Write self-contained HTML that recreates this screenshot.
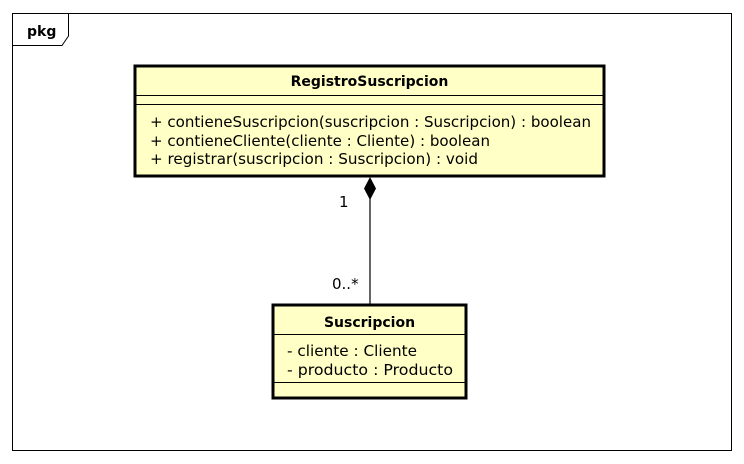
<!DOCTYPE html>
<html><head><style>html,body{margin:0;padding:0;background:#fff}svg{display:block}</style></head>
<body>
<svg width="744" height="464" viewBox="0 0 744 464" xmlns="http://www.w3.org/2000/svg" font-family="'DejaVu Sans','Liberation Sans',sans-serif">
<rect width="744" height="464" fill="#fff"/>
<rect x="12.5" y="13.5" width="719" height="437" fill="none" stroke="#000" stroke-width="1"/>
<polyline points="12.5,45.5 62,45.5 68.5,36 68.5,13.5" fill="none" stroke="#000" stroke-width="1"/>
<text x="27" y="36" font-size="14" font-weight="bold">pkg</text>

<rect x="135" y="66" width="469" height="110" fill="#ffffc6" stroke="#000" stroke-width="3"/>
<line x1="135" y1="95.5" x2="604" y2="95.5" stroke="#000" stroke-width="1"/>
<line x1="135" y1="104.5" x2="604" y2="104.5" stroke="#000" stroke-width="1"/>
<text x="369.5" y="86" font-size="14" font-weight="bold" text-anchor="middle">RegistroSuscripcion</text>
<text x="150" y="127" font-size="15" textLength="441" lengthAdjust="spacingAndGlyphs">+ contieneSuscripcion(suscripcion : Suscripcion) : boolean</text>
<text x="150" y="146" font-size="15" textLength="340" lengthAdjust="spacingAndGlyphs">+ contieneCliente(cliente : Cliente) : boolean</text>
<text x="150" y="164" font-size="15" textLength="328" lengthAdjust="spacingAndGlyphs">+ registrar(suscripcion : Suscripcion) : void</text>

<line x1="370" y1="190" x2="370" y2="305" stroke="#000" stroke-width="1.2"/>
<polygon points="370,177 376,188.5 370,200 364,188.5" fill="#000"/>
<text x="339" y="207" font-size="15">1</text>
<text x="332" y="289" font-size="15">0..*</text>

<rect x="273" y="305" width="193" height="93" fill="#ffffc6" stroke="#000" stroke-width="3"/>
<line x1="273" y1="334.5" x2="466" y2="334.5" stroke="#000" stroke-width="1"/>
<line x1="273" y1="382.5" x2="466" y2="382.5" stroke="#000" stroke-width="1"/>
<text x="369.5" y="327" font-size="14" font-weight="bold" text-anchor="middle">Suscripcion</text>
<text x="287" y="356" font-size="15" textLength="130" lengthAdjust="spacingAndGlyphs">- cliente : Cliente</text>
<text x="287" y="375" font-size="15" textLength="166" lengthAdjust="spacingAndGlyphs">- producto : Producto</text>
</svg>
</body></html>
